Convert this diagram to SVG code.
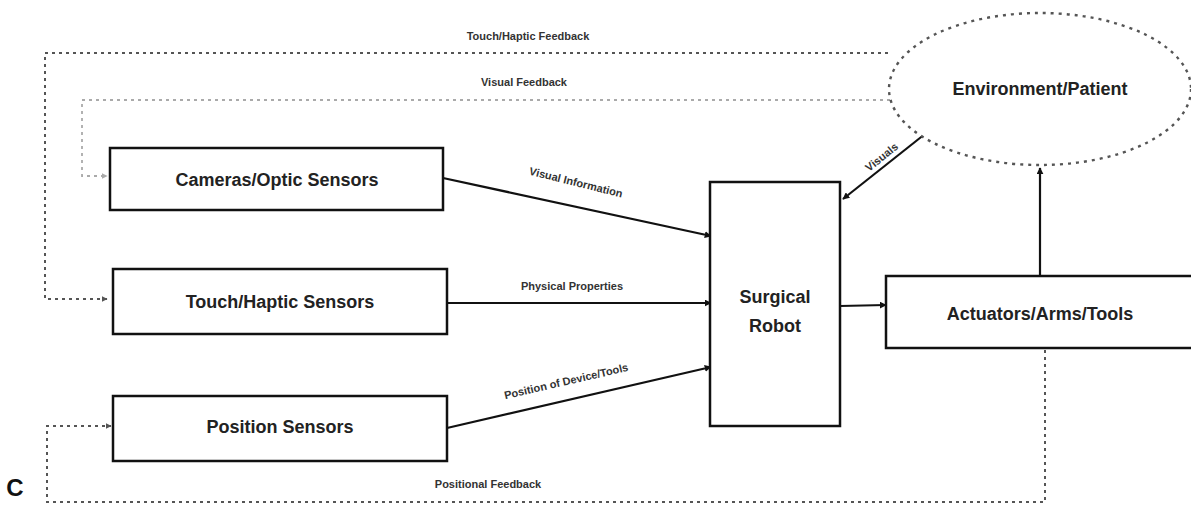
<svg xmlns="http://www.w3.org/2000/svg" width="1191" height="506" viewBox="0 0 1191 506">
<defs>
<marker id="ah" viewBox="0 0 10 10" refX="9" refY="5" markerWidth="7" markerHeight="7" markerUnits="userSpaceOnUse" orient="auto"><path d="M0,0 L10,5 L0,10 z" fill="#111"/></marker>
<marker id="ahg" viewBox="0 0 10 10" refX="9" refY="5" markerWidth="6" markerHeight="6" markerUnits="userSpaceOnUse" orient="auto"><path d="M0,0 L10,5 L0,10 z" fill="#555"/></marker>
<marker id="ahl" viewBox="0 0 10 10" refX="9" refY="5" markerWidth="6" markerHeight="6" markerUnits="userSpaceOnUse" orient="auto"><path d="M0,0 L10,5 L0,10 z" fill="#aaa"/></marker>
</defs>
<style>
.box{fill:#fff;stroke:#111;stroke-width:2.5}
.lbl{font-family:"Liberation Sans Narrow","Liberation Sans",Arial,sans-serif;font-size:18px;font-weight:bold;fill:#222;text-anchor:middle}
.sm{font-family:"Liberation Sans Narrow","Liberation Sans",Arial,sans-serif;font-size:11px;font-weight:bold;fill:#333;text-anchor:middle}
.con{fill:none;stroke:#111;stroke-width:2.2}
.dash{fill:none;stroke:#555;stroke-width:2;stroke-dasharray:3 4}
.dashl{fill:none;stroke:#aaa;stroke-width:1.8;stroke-dasharray:3 4}
</style>
<rect width="1191" height="506" fill="#fff"/>
<g id="connectors">
<path class="dash" d="M888,53 L45,53 L45,299 L107,299" marker-end="url(#ahg)"/>
<path class="dashl" d="M890,100 L82,100 L82,176 L107,176" marker-end="url(#ahl)"/>
<path class="dash" d="M1045,350 L1045,502 L47,502 L47,426 L111,426" marker-end="url(#ahg)"/>
<path class="con" d="M443,178 L711,236" marker-end="url(#ah)"/>
<path class="con" d="M447,303 L711,303" marker-end="url(#ah)"/>
<path class="con" d="M447,428 L711,367" marker-end="url(#ah)"/>
<path class="con" d="M840,306 L886,305" marker-end="url(#ah)"/>
<path class="con" d="M930,130 L843,199" marker-end="url(#ah)"/>
<path class="con" d="M1040,276 L1040,168" marker-end="url(#ah)"/>
<text class="sm" x="528" y="40">Touch/Haptic Feedback</text>
<text class="sm" x="524" y="86">Visual Feedback</text>
<text class="sm" x="488" y="488">Positional Feedback</text>
<text class="sm" x="572" y="290">Physical Properties</text>
<text class="sm" transform="translate(575,186) rotate(14)">Visual Information</text>
<text class="sm" transform="translate(567,385) rotate(-13)">Position of Device/Tools</text>
<text class="sm" transform="translate(884,160) rotate(-39)">Visuals</text>
</g>
<g id="env">
<ellipse cx="1040" cy="89" rx="151" ry="76" fill="#fff" stroke="#555" stroke-width="2.4" stroke-dasharray="3 5"/>
<text class="lbl" x="1040" y="95">Environment/Patient</text>
</g>
<g id="cameras">
<rect class="box" x="110" y="148" width="333" height="62"/>
<text class="lbl" x="277" y="186">Cameras/Optic Sensors</text>
</g>
<g id="touch">
<rect class="box" x="113" y="269" width="334" height="65"/>
<text class="lbl" x="280" y="308">Touch/Haptic Sensors</text>
</g>
<g id="position">
<rect class="box" x="113" y="396" width="334" height="65"/>
<text class="lbl" x="280" y="433">Position Sensors</text>
</g>
<g id="robot">
<rect class="box" x="710" y="182" width="130" height="244"/>
<text class="lbl" x="775" y="303">Surgical</text>
<text class="lbl" x="775" y="332">Robot</text>
</g>
<g id="actuators">
<rect class="box" x="886" y="276" width="310" height="72"/>
<text class="lbl" x="1040" y="320">Actuators/Arms/Tools</text>
</g>
<text x="15" y="496" font-family="Liberation Sans, Arial, sans-serif" font-size="24" font-weight="bold" fill="#111" text-anchor="middle">C</text>
</svg>
